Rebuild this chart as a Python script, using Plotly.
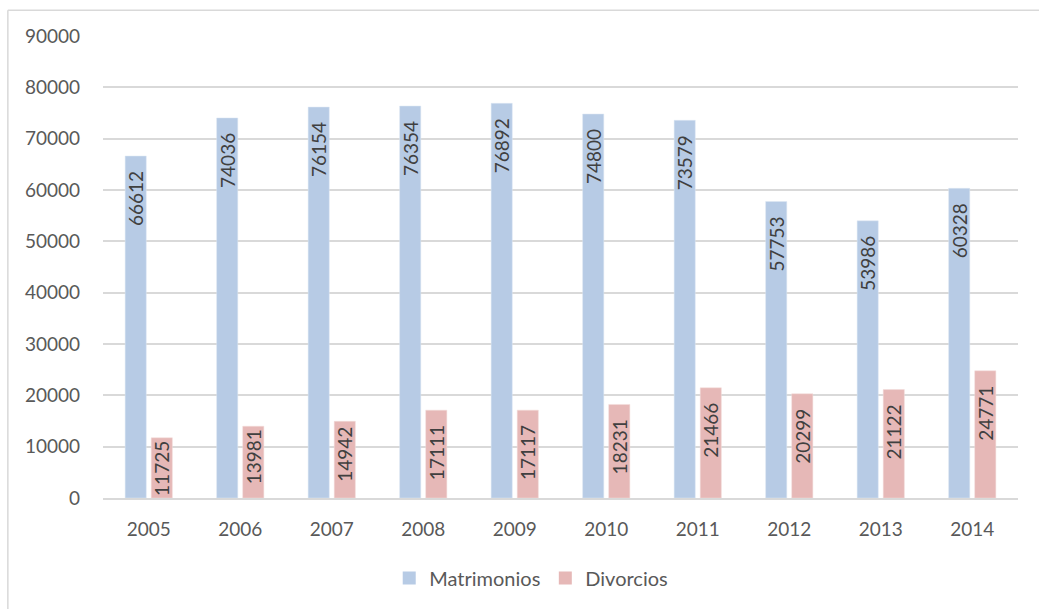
import plotly.graph_objects as go

years = ["2005", "2006", "2007", "2008", "2009", "2010", "2011", "2012", "2013", "2014"]
matrimonios = [66612, 74036, 76154, 76354, 76892, 74800, 73579, 57753, 53986, 60328]
divorcios = [11725, 13981, 14942, 17111, 17117, 18231, 21466, 20299, 21122, 24771]
y_ticks = [0, 10000, 20000, 30000, 40000, 50000, 60000, 70000, 80000, 90000]

FONT = "Lato"
BLUE = "#B7CBE5"
PINK = "#E6B8B7"


def label(v):
    # Excel keeps labels ~15px below the bar end when they fit; short bars get less room
    if v >= 17000:
        pad = "\u2002\u2009"
    elif v >= 14500:
        pad = "\u2009"
    else:
        pad = ""
    return str(v) + pad


fig = go.Figure()
fig.add_trace(go.Bar(
    x=years, y=matrimonios, name="Matrimonios", showlegend=False,
    marker=dict(color=BLUE, line=dict(color="#DCE6F2", width=0.5)),
    text=[label(v) for v in matrimonios], textposition="inside",
    insidetextanchor="end", textangle=-90,
    textfont=dict(family=FONT, size=19, color="#404040"),
))
fig.add_trace(go.Bar(
    x=years, y=divorcios, name="Divorcios", showlegend=False,
    marker=dict(color=PINK, line=dict(color="#F2DCDB", width=0.5)),
    text=[label(v) for v in divorcios], textposition="inside",
    insidetextanchor="end", textangle=-90,
    textfont=dict(family=FONT, size=19, color="#404040"),
))
for nm, col in [("Matrimonios", BLUE), ("Divorcios", PINK)]:
    fig.add_trace(go.Scatter(x=[None], y=[None], mode="markers", name=nm,
                             marker=dict(symbol="square", size=13, color=col)))

fig.update_layout(
    width=1039, height=609,
    margin=dict(l=103, r=21, t=36, b=111),
    plot_bgcolor="white", paper_bgcolor="white",
    barmode="group", bargap=0.43, bargroupgap=0.19,
    uniformtext=dict(minsize=19, mode="show"),
    font=dict(family=FONT, size=19, color="#595959"),
    legend=dict(orientation="h", x=0.468, xanchor="center", y=-0.173, yanchor="middle",
                font=dict(family=FONT, size=20, color="#595959"),
                itemwidth=30, tracegroupgap=0),
    xaxis=dict(showgrid=False, ticks="", showline=True, linecolor="#D9D9D9", linewidth=1.5,
               tickfont=dict(family=FONT, size=19, color="#595959"), ticklabelstandoff=13),
    yaxis=dict(range=[0, 90000], tickvals=y_ticks, ticktext=[str(v) for v in y_ticks],
               showgrid=True, gridcolor="#D9D9D9", gridwidth=1.5, zeroline=False,
               ticks="", tickfont=dict(family=FONT, size=19, color="#595959"),
               ticklabelstandoff=22),
    shapes=[
        dict(type="line", xref="paper", yref="paper", x0=-0.104, x1=1.2, y0=1.056, y1=1.056,
             line=dict(color="#D9D9D9", width=1.5)),
        dict(type="line", xref="paper", yref="paper", x0=-0.104, x1=-0.104, y0=1.056, y1=-0.4,
             line=dict(color="#D9D9D9", width=1.5)),
    ],
)

fig.write_html("out.html")
